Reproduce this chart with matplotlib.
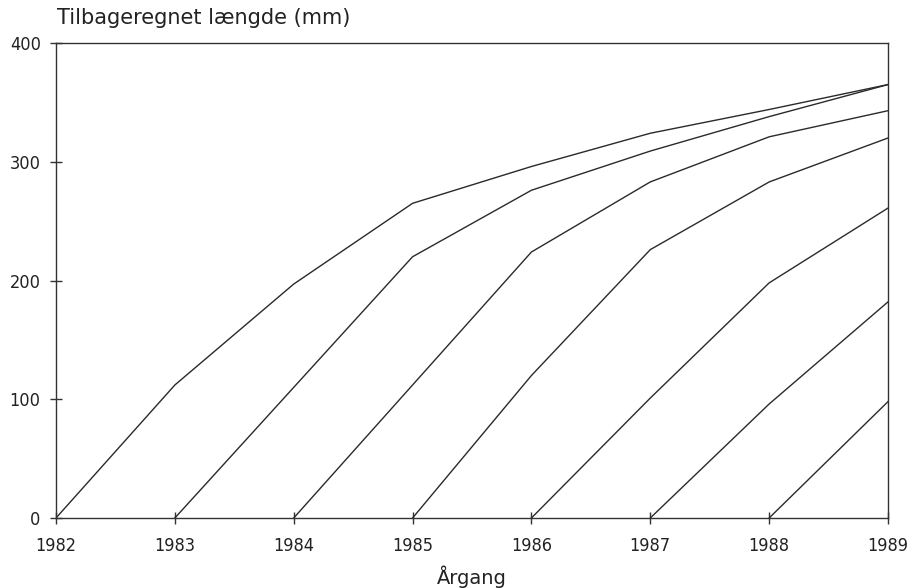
import matplotlib
matplotlib.use("Agg")
import matplotlib.pyplot as plt

years = [1982, 1983, 1984, 1985, 1986, 1987, 1988, 1989]

# Back-calculated length (mm) per year class (cohort start year -> values from start year to 1989)
cohort_1982 = [0, 112, 197, 265, 296, 324, 344, 365]
cohort_1983 = [0, 110, 220, 276, 309, 338, 365]
cohort_1984 = [0, 112, 224, 283, 321, 343]
cohort_1985 = [0, 120, 226, 283, 320]
cohort_1986 = [0, 101, 198, 261]
cohort_1987 = [0, 96, 182]
cohort_1988 = [0, 98]

cohorts = [cohort_1982, cohort_1983, cohort_1984, cohort_1985,
           cohort_1986, cohort_1987, cohort_1988]

y_ticks = [0, 100, 200, 300, 400]
title = "Tilbageregnet længde (mm)"
xlabel = "Årgang"

fig = plt.figure(figsize=(9.09, 5.88), dpi=100)
ax = fig.add_axes([56/909, 1 - 518/588, (888-56)/909, (518-43)/588])

for vals in cohorts:
    xs = years[len(years) - len(vals):]
    ax.plot(xs, vals, color="#2a2a2a", lw=1.0)

ax.set_xlim(1982, 1989)
ax.set_ylim(0, 400)
ax.set_xticks(years)
ax.set_yticks(y_ticks)
ax.tick_params(direction="inout", length=8, width=1.0, color="#333333",
               labelsize=13)
ax.tick_params(axis="x", pad=10)
ax.tick_params(axis="y", pad=7)
for lab in ax.get_xticklabels() + ax.get_yticklabels():
    lab.set_fontstretch("condensed")
    lab.set_color("#222222")
for sp in ax.spines.values():
    sp.set_color("#333333")
    sp.set_linewidth(1.0)

fig.text(57/909, 1 - 18/588, title, fontsize=15, color="#222222",
         ha="left", va="center")
fig.text(472/909, 1 - 577/588, xlabel, fontsize=14, color="#222222",
         ha="center", va="center")

fig.savefig("out.png", dpi=100)
